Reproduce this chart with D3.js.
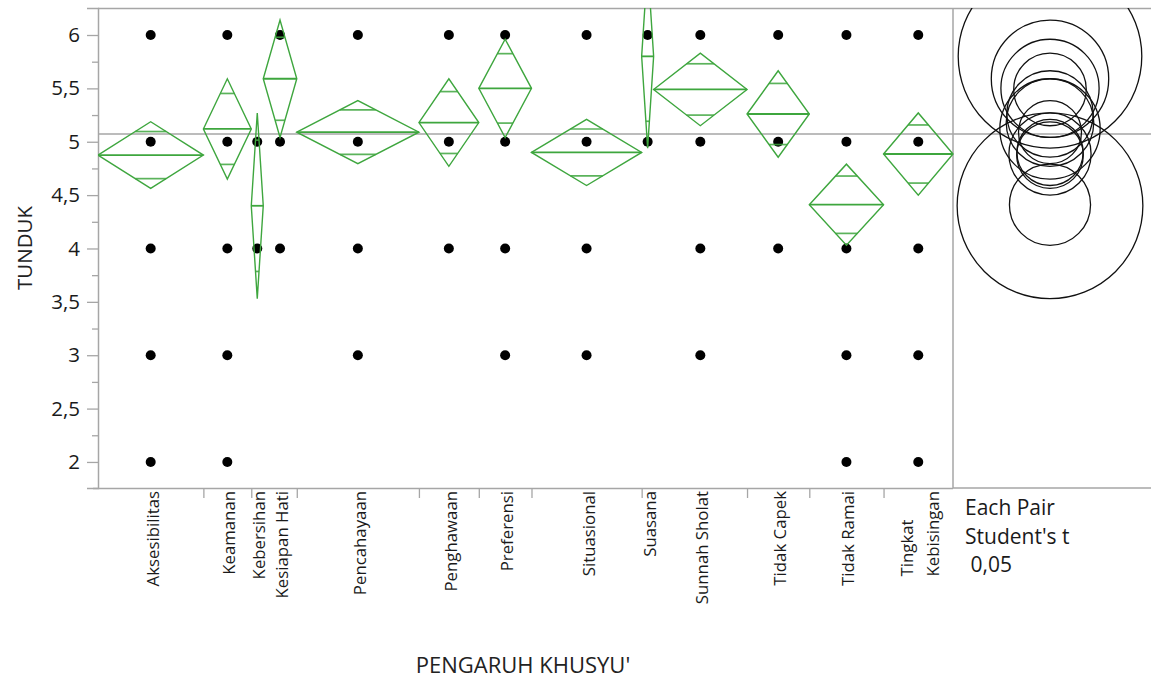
<!DOCTYPE html>
<html>
<head>
<meta charset="utf-8">
<script src="https://cdn.jsdelivr.net/npm/d3@7"></script>
<style>
  body { margin: 0; background: #fff; }
  svg { display: block; font-family: "Open Sans", "Noto Sans", sans-serif; }
</style>
</head>
<body>
<svg id="chart" width="1151" height="681"></svg>
<script>
// One-way analysis of TUNDUK by PENGARUH KHUSYU' (means diamonds + comparison circles)
const categories = ["Aksesibilitas", "Keamanan", "Kebersihan", "Kesiapan Hati", "Pencahayaan",
  "Penghawaan", "Preferensi", "Situasional", "Suasana", "Sunnah Sholat", "Tidak Capek",
  "Tidak Ramai", "Tingkat Kebisingan"];
const groupSizes = [44, 20, 5, 14, 51, 25, 22, 46, 5, 39, 26, 31, 29];
const groupMeans = [4.875, 5.12, 4.4, 5.59, 5.09, 5.18, 5.5, 4.9, 5.8, 5.49, 5.26, 4.41, 4.885];
const ciHalfWidths = [0.312, 0.47, 0.87, 0.55, 0.295, 0.41, 0.46, 0.31, 0.86, 0.34, 0.405, 0.38, 0.385];
const observedLevels = [
  [6, 5, 4, 3, 2], [6, 5, 4, 3, 2], [5, 4], [6, 5, 4], [6, 5, 4, 3], [6, 5, 4], [6, 5, 4, 3],
  [6, 5, 4, 3], [6, 5], [6, 5, 4, 3], [6, 5, 4], [6, 5, 4, 3, 2], [6, 5, 4, 3, 2]
];
const yTicks = [2, 2.5, 3, 3.5, 4, 4.5, 5, 5.5, 6];
const yMinorTicks = [2.25, 2.75, 3.25, 3.75, 4.25, 4.75, 5.25, 5.75];
const yDomain = [1.756, 6.253];
const yTitle = "TUNDUK";
const xTitle = "PENGARUH KHUSYU'";
const comparisonNote = ["Each Pair", "Student's t", " 0,05"];

const W = 1151, H = 681;
const plot = { left: 98, right: 953, top: 8, bottom: 488 };
const panelRight = W;
const circleCx = 1050;
const green = "#3ea63e";
const frameGray = "#a6a6a6";
const ink = "#1a1a1a";

const svg = d3.select("#chart");

const totalN = d3.sum(groupSizes);
const cum = [0];
groupSizes.forEach(n => cum.push(cum[cum.length - 1] + n));
const x = d3.scaleLinear().domain([0, totalN]).range([plot.left, plot.right]);
const y = d3.scaleLinear().domain(yDomain).range([plot.bottom, plot.top]);

const grandMean = d3.sum(groupMeans.map((m, i) => m * groupSizes[i])) / totalN;

// clip region covering plot + comparison panel
svg.append("defs").append("clipPath").attr("id", "clip")
  .append("rect").attr("x", plot.left).attr("y", plot.top)
  .attr("width", panelRight - plot.left).attr("height", plot.bottom - plot.top);

// frame: top line, panel divider, bottom line
svg.append("line").attr("x1", plot.left).attr("x2", panelRight)
  .attr("y1", plot.top + 0.5).attr("y2", plot.top + 0.5)
  .attr("stroke", frameGray).attr("stroke-width", 1.5);
svg.append("line").attr("x1", plot.right).attr("x2", plot.right)
  .attr("y1", plot.top).attr("y2", plot.bottom)
  .attr("stroke", frameGray).attr("stroke-width", 1.5);
svg.append("line").attr("x1", plot.right).attr("x2", panelRight)
  .attr("y1", plot.bottom).attr("y2", plot.bottom)
  .attr("stroke", frameGray).attr("stroke-width", 1.5);

// grand mean reference line
svg.append("line").attr("x1", plot.left).attr("x2", panelRight)
  .attr("y1", y(grandMean)).attr("y2", y(grandMean))
  .attr("stroke", frameGray).attr("stroke-width", 1.6);

// Y axis
const fmt = v => d3.format("~f")(v).replace(".", ",");
const yAxis = svg.append("g").attr("transform", `translate(${plot.left},0)`)
  .call(d3.axisLeft(y).tickValues(yTicks).tickSize(11).tickPadding(7).tickFormat(fmt));
svg.append("g").attr("transform", `translate(${plot.left},0)`)
  .call(d3.axisLeft(y).tickValues(yMinorTicks).tickSize(6).tickFormat(""))
  .call(g => g.select(".domain").remove())
  .selectAll("line").attr("stroke", frameGray).attr("stroke-width", 1.3);
yAxis.select(".domain").attr("stroke", frameGray).attr("stroke-width", 1.5);
yAxis.selectAll("line").attr("stroke", frameGray).attr("stroke-width", 1.3);
yAxis.selectAll("text").attr("font-size", 20.5).attr("fill", ink)
  .attr("font-family", "'Open Sans', sans-serif");

// X axis: tick marks at group boundaries (skipped after very narrow groups)
const boundaryTicks = cum.slice(1, -1).filter((c, i) => x(cum[i + 1]) - x(cum[i]) > 20);
const xAxis = svg.append("g").attr("transform", `translate(0,${plot.bottom})`)
  .call(d3.axisBottom(x).tickValues(boundaryTicks).tickSize(10).tickFormat(""));
xAxis.select(".domain").attr("stroke", frameGray).attr("stroke-width", 1.5)
  .attr("d", `M${plot.left - 5},0.5H${plot.right}`);
xAxis.selectAll("line").attr("stroke", frameGray).attr("stroke-width", 1.3);

// category labels, rotated, wrapped onto words when too long
const labelG = svg.append("g").attr("font-size", 16.8).attr("fill", ink);
categories.forEach((name, i) => {
  const cx = x((cum[i] + cum[i + 1]) / 2);
  const probe = labelG.append("text").text(name);
  const len = probe.node().getComputedTextLength();
  probe.remove();
  const lines = len > 124 ? name.split(" ") : [name];
  const k = lines.length;
  const lens = lines.map(l => {
    const t = labelG.append("text").text(l);
    const w = t.node().getComputedTextLength();
    t.remove();
    return w;
  });
  const blockLen = d3.max(lens);
  lines.forEach((line, j) => {
    const bx = cx + 8 + (j - (k - 1) / 2) * 26;
    labelG.append("text")
      .attr("transform", `translate(${bx},${plot.bottom + 3 + blockLen}) rotate(-90)`)
      .attr("text-anchor", "start")
      .text(line);
  });
});

// data layer
const layer = svg.append("g").attr("clip-path", "url(#clip)");

// observations
categories.forEach((name, i) => {
  const cx = x((cum[i] + cum[i + 1]) / 2);
  layer.selectAll(null).data(observedLevels[i]).enter().append("circle")
    .attr("cx", cx).attr("cy", d => y(d)).attr("r", 5).attr("fill", "#000");
});

// means diamonds with mean line and overlap marks
categories.forEach((name, i) => {
  const x0 = x(cum[i]), x1 = x(cum[i + 1]), xm = (x0 + x1) / 2;
  const m = groupMeans[i], h = ciHalfWidths[i];
  const g = layer.append("g").attr("fill", "none").attr("stroke", green);
  g.append("path")
    .attr("d", `M${x0},${y(m)}L${xm},${y(m + h)}L${x1},${y(m)}L${xm},${y(m - h)}Z`)
    .attr("stroke-width", 1.4).attr("stroke-linejoin", "miter");
  g.append("line").attr("x1", x0).attr("x2", x1).attr("y1", y(m)).attr("y2", y(m))
    .attr("stroke-width", 1.8);
  const off = h / Math.SQRT2;
  const halfW = (x1 - x0) / 2 * (1 - 1 / Math.SQRT2);
  [m + off, m - off].forEach(v => {
    g.append("line").attr("x1", xm - halfW).attr("x2", xm + halfW)
      .attr("y1", y(v)).attr("y2", y(v)).attr("stroke-width", 1.7).attr("stroke-opacity", 0.85);
  });
});

// comparison circles: radius equals the CI half-width on the response scale
const pxPerUnit = y(0) - y(1);
layer.selectAll(".cmp").data(groupMeans).enter().append("circle")
  .attr("class", "cmp")
  .attr("cx", circleCx).attr("cy", d => y(d))
  .attr("r", (d, i) => ciHalfWidths[i] * pxPerUnit)
  .attr("fill", "none").attr("stroke", "#111").attr("stroke-width", 1.3);

// comparison note
svg.append("g").attr("font-size", 21).attr("fill", ink)
  .selectAll("text").data(comparisonNote).enter().append("text")
  .attr("x", 965).attr("y", (d, i) => 515 + i * 28.5)
  .attr("xml:space", "preserve").style("white-space", "pre")
  .text(d => d);

// axis titles
svg.append("text").attr("transform", `translate(32,248) rotate(-90)`)
  .attr("text-anchor", "middle").attr("font-size", 20.5).attr("fill", "#222").text(yTitle);
svg.append("text").attr("x", 523).attr("y", 673)
  .attr("text-anchor", "middle").attr("font-size", 22).attr("fill", "#222").text(xTitle);
</script>
</body>
</html>
